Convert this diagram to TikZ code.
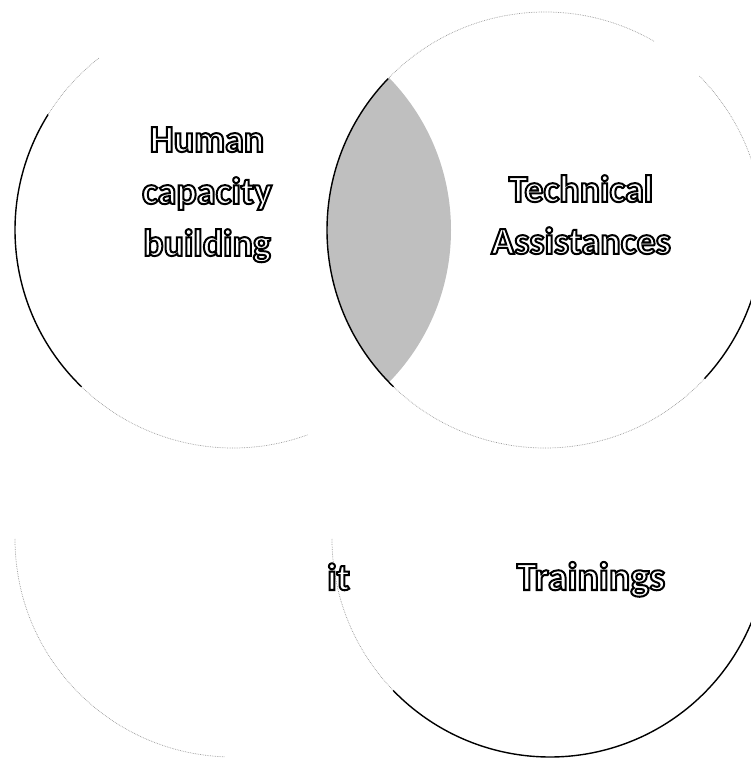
\documentclass[tikz,border=0pt]{standalone}
\usepackage{fontspec}
\setmainfont{Carlito}
\newcommand\olword[1]{\special{pdf:literal direct 2 Tr 2 w 0 0 0 RG}#1\special{pdf:literal direct 0 Tr}}
\begin{document}
\begin{tikzpicture}[x=1pt,y=1pt,
  darkarc/.style={draw=black,line width=1.4pt},
  faintarc/.style={draw=black!40,line width=0.7pt,densely dotted},
  vtext/.style={font=\bfseries\fontsize{38}{52}\selectfont,text=white,align=center,inner sep=0pt}]
\useasboundingbox (0,0) rectangle (750,758);
\def\R{218pt}
\coordinate (cA) at (233,528);
\coordinate (cB) at (545,528);
\coordinate (cC) at (550,219);
\coordinate (cD) at (233,219);
% shaded overlap of the two upper circles
\begin{scope}
  \clip (cA) circle (\R);
  \fill[black!25] (cB) circle (\R);
\end{scope}
% faint parts of the outlines
\draw[faintarc] (cA) ++(128:\R) arc[start angle=128,end angle=148,radius=\R];
\draw[faintarc] (cA) ++(226:\R) arc[start angle=226,end angle=290,radius=\R];
\draw[faintarc] (cB) ++(17:\R) arc[start angle=17,end angle=45,radius=\R];
\draw[faintarc] (cB) ++(60:\R) arc[start angle=60,end angle=136,radius=\R];
\draw[faintarc] (cB) ++(224:\R) arc[start angle=224,end angle=317,radius=\R];
\draw[faintarc] (cC) ++(180:\R) arc[start angle=180,end angle=224,radius=\R];
\draw[faintarc] (cD) ++(180:\R) arc[start angle=180,end angle=268,radius=\R];
% dark parts of the outlines
\draw[darkarc] (cA) ++(148:\R) arc[start angle=148,end angle=226,radius=\R];
\draw[darkarc] (cB) ++(136:\R) arc[start angle=136,end angle=226,radius=\R];
\draw[darkarc] (cB) ++(317:\R) arc[start angle=317,end angle=343,radius=\R];
\draw[darkarc] (cC) ++(224:\R) arc[start angle=224,end angle=338,radius=\R];
% texts
\node[vtext, anchor=north] (human) at (207,631) {\olword{Human}\\\olword{capacity}\\\olword{building}};
\node[vtext, anchor=north] (tech) at (581,583) {\olword{Technical}\\\olword{Assistances}};
\node[vtext, anchor=base, font=\bfseries\fontsize{40}{52}\selectfont] (train) at (591,168) {\olword{Trainings}};
\node[vtext, anchor=base east] (dev) at (350,168) {\olword{it}};
\end{tikzpicture}
\end{document}
